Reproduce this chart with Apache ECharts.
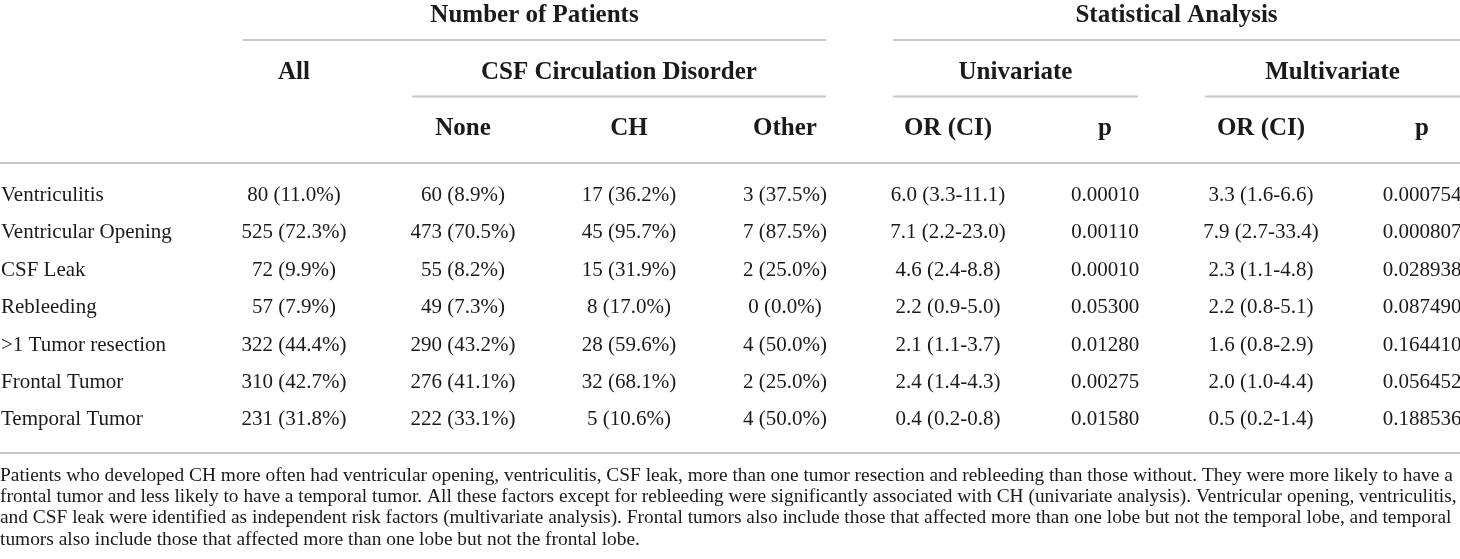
<!DOCTYPE html>
<html>
<head>
<meta charset="utf-8" />
<title>CSF circulation disorder - risk factors</title>
<style>
    html, body { margin: 0; padding: 0; background: #fff; }
    #main { width: 1460px; height: 559px; }
</style>
<script src="https://cdn.jsdelivr.net/npm/echarts@6/dist/echarts.min.js"></script>
</head>
<body>
<div id="main"></div>
<script>
    // table rows
    const rowNames = ['Ventriculitis', 'Ventricular Opening', 'CSF Leak', 'Rebleeding', '>1 Tumor resection', 'Frontal Tumor', 'Temporal Tumor'];

    // number of patients
    const allPatients = ['80 (11.0%)', '525 (72.3%)', '72 (9.9%)', '57 (7.9%)', '322 (44.4%)', '310 (42.7%)', '231 (31.8%)'];
    const csfNone = ['60 (8.9%)', '473 (70.5%)', '55 (8.2%)', '49 (7.3%)', '290 (43.2%)', '276 (41.1%)', '222 (33.1%)'];
    const csfCH = ['17 (36.2%)', '45 (95.7%)', '15 (31.9%)', '8 (17.0%)', '28 (59.6%)', '32 (68.1%)', '5 (10.6%)'];
    const csfOther = ['3 (37.5%)', '7 (87.5%)', '2 (25.0%)', '0 (0.0%)', '4 (50.0%)', '2 (25.0%)', '4 (50.0%)'];

    // statistical analysis
    const uniOR = ['6.0 (3.3-11.1)', '7.1 (2.2-23.0)', '4.6 (2.4-8.8)', '2.2 (0.9-5.0)', '2.1 (1.1-3.7)', '2.4 (1.4-4.3)', '0.4 (0.2-0.8)'];
    const uniP = ['0.00010', '0.00110', '0.00010', '0.05300', '0.01280', '0.00275', '0.01580'];
    const multiOR = ['3.3 (1.6-6.6)', '7.9 (2.7-33.4)', '2.3 (1.1-4.8)', '2.2 (0.8-5.1)', '1.6 (0.8-2.9)', '2.0 (1.0-4.4)', '0.5 (0.2-1.4)'];
    const multiP = ['0.000754', '0.000807', '0.028938', '0.087490', '0.164410', '0.056452', '0.188536'];

    // header cells: [text, level, first column, last column, has rule under it]
    const headerCells = [
        ['Number of Patients', 0, 0, 3, 1],
        ['Statistical Analysis', 0, 4, 7, 1],
        ['All', 1, 0, 0, 0],
        ['CSF Circulation Disorder', 1, 1, 3, 1],
        ['Univariate', 1, 4, 5, 1],
        ['Multivariate', 1, 6, 7, 1],
        ['None', 2, 1, 1, 0],
        ['CH', 2, 2, 2, 0],
        ['Other', 2, 3, 3, 0],
        ['OR (CI)', 2, 4, 4, 0],
        ['p', 2, 5, 5, 0],
        ['OR (CI)', 2, 6, 6, 0],
        ['p', 2, 7, 7, 0]
    ];

    const footnoteLines = [
        'Patients who developed CH more often had ventricular opening, ventriculitis, CSF leak, more than one tumor resection and rebleeding than those without. They were more likely to have a',
        'frontal tumor and less likely to have a temporal tumor. All these factors except for rebleeding were significantly associated with CH (univariate analysis). Ventricular opening, ventriculitis,',
        'and CSF leak were identified as independent risk factors (multivariate analysis). Frontal tumors also include those that affected more than one lobe but not the temporal lobe, and temporal',
        'tumors also include those that affected more than one lobe but not the frontal lobe.'
    ];

    // layout: left / right edge of each value column on the x axis (0..1460)
    const colEdges = [[243, 345], [412, 514], [578, 680], [744, 826], [893, 1003], [1072, 1138], [1205, 1317], [1384, 1460]];
    const RULE_OFFSET = 0.43; // rule under a spanning header, in header levels

    const FONT = 'Liberation Serif';
    const INK = '#1a1a1a';
    const RULE = '#c8c8c8';

    const bodyColumns = [allPatients, csfNone, csfCH, csfOther, uniOR, uniP, multiOR, multiP];
    const bodyData = [];
    bodyColumns.forEach(function (col, c) {
        col.forEach(function (txt, r) {
            bodyData.push([c, rowNames[r], txt]);
        });
    });

    function colMid(c0, c1) {
        return (colEdges[c0][0] + colEdges[c1][1]) / 2;
    }

    function renderBodyCell(params, api) {
        const cell = bodyData[params.dataIndex];
        const pt = api.coord([colMid(cell[0], cell[0]), api.value(1)]);
        return {
            type: 'text',
            x: pt[0],
            y: pt[1],
            style: {
                text: cell[2], fill: INK, fontFamily: FONT, fontSize: 21,
                align: 'center', verticalAlign: 'middle'
            }
        };
    }

    function renderHeaderCell(params, api) {
        const h = headerCells[params.dataIndex];
        const mid = api.coord([colMid(h[2], h[3]), h[1]]);
        const children = [{
            type: 'text',
            x: mid[0],
            y: mid[1],
            style: {
                text: h[0], fill: INK, fontFamily: FONT, fontSize: 25, fontWeight: 'bold',
                align: 'center', verticalAlign: 'middle'
            }
        }];
        if (h[4]) {
            const a = api.coord([colEdges[h[2]][0], h[1] + RULE_OFFSET]);
            const b = api.coord([colEdges[h[3]][1], h[1] + RULE_OFFSET]);
            children.push({
                type: 'line',
                shape: { x1: a[0], y1: a[1], x2: b[0], y2: b[1] },
                style: { stroke: RULE, lineWidth: 2 }
            });
        }
        return { type: 'group', children: children };
    }

    const hiddenX = {
        type: 'value', min: 0, max: 1460,
        axisLabel: { show: false }, axisTick: { show: false }, splitLine: { show: false },
        axisLine: { show: true, onZero: false, lineStyle: { color: RULE, width: 2 } }
    };

    const myChart = echarts.init(document.getElementById('main'));
    const option = {
        animation: false,
        title: {
            text: footnoteLines.join('\n'),
            left: 0,
            top: 465,
            padding: 0,
            textStyle: { fontFamily: FONT, fontSize: 19.4, fontWeight: 'normal', color: INK, lineHeight: 21.3 }
        },
        grid: [
            { left: 0, right: 0, top: 176.8, height: 261.8, outerBoundsMode: 'none' },  // body
            { left: 0, right: 0, top: 0.5, height: 162.2, outerBoundsMode: 'none' }     // header
        ],
        xAxis: [
            Object.assign({}, hiddenX, { gridIndex: 0, position: 'bottom', offset: 14.2 }),
            Object.assign({}, hiddenX, { gridIndex: 1, position: 'bottom' })
        ],
        yAxis: [
            {
                gridIndex: 0, type: 'category', data: rowNames, inverse: true,
                axisLine: { show: false }, axisTick: { show: false },
                axisLabel: { inside: true, margin: 1, color: INK, fontFamily: FONT, fontSize: 21 }
            },
            {
                gridIndex: 1, type: 'value', min: -0.27, max: 2.6, inverse: true,
                axisLine: { show: false }, axisTick: { show: false },
                axisLabel: { show: false }, splitLine: { show: false }
            }
        ],
        series: [
            {
                type: 'custom', xAxisIndex: 0, yAxisIndex: 0,
                renderItem: renderBodyCell,
                data: bodyData.map(function (d) { return [d[0], d[1]]; })
            },
            {
                type: 'custom', xAxisIndex: 1, yAxisIndex: 1,
                renderItem: renderHeaderCell,
                data: headerCells.map(function (h) { return [h[2], h[1]]; })
            }
        ]
    };
    myChart.setOption(option);
</script>
</body>
</html>
